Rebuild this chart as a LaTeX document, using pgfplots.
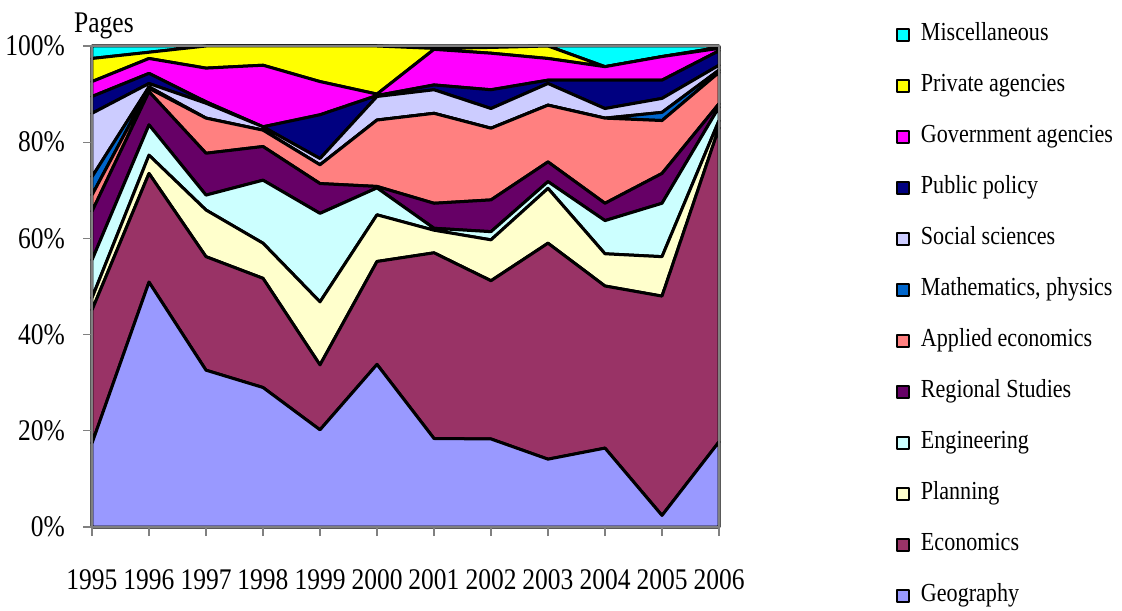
\documentclass[border=0pt]{standalone}
\usepackage{fontspec}
\setmainfont[FakeStretch=0.85]{Liberation Serif}
\usepackage{pgfplots}
\usepackage{pgfplotstable}
\pgfplotsset{compat=1.18}

\definecolor{cgeo}{HTML}{9999FF}
\definecolor{ceco}{HTML}{993366}
\definecolor{cplan}{HTML}{FFFFCC}
\definecolor{ceng}{HTML}{CCFFFF}
\definecolor{creg}{HTML}{660066}
\definecolor{capp}{HTML}{FF8080}
\definecolor{cmath}{HTML}{0066CC}
\definecolor{csoc}{HTML}{CCCCFF}
\definecolor{cpub}{HTML}{000080}
\definecolor{cgov}{HTML}{FF00FF}
\definecolor{cpriv}{HTML}{FFFF00}
\definecolor{cmisc}{HTML}{00FFFF}

% share of pages per field, in %
\pgfplotstableread{
year geo  eco  plan eng  reg  app  math soc  pub gov  priv misc
1995 17.4 27.7 2.5  7.9  10.1 3.4  3.8  13.2 3.5 3.1  4.8  2.6
1996 50.9 22.6 3.8  6.3  6.9  0.7  0.3  0.7  2.1 3.1  1.3  1.3
1997 32.6 23.6 9.7  3.1  8.7  7.3  0.0  3.1  0.3 7.0  4.6  0.0
1998 29.0 22.7 7.3  13.1 7.0  3.4  0.0  0.7  0.0 12.8 4.0  0.0
1999 20.2 13.5 13.1 18.4 6.2  3.9  0.0  1.3  9.1 6.9  7.4  0.0
2000 33.8 21.4 9.7  5.6  0.3  13.8 0.0  4.9  0.2 0.3  10.0 0.0
2001 18.4 38.6 4.7  0.4  5.2  18.7 0.0  4.9  1.0 7.4  0.2  0.5
2002 18.3 32.9 8.5  1.7  6.6  14.9 0.0  4.1  3.9 7.6  1.2  0.3
2003 14.1 44.9 11.4 1.4  4.1  11.8 0.0  4.5  0.7 4.5  2.6  0.0
2004 16.4 33.7 6.7  6.9  3.6  17.7 0.0  2.0  5.9 2.8  0.0  4.3
2005 2.4  45.6 8.2  11.1 6.2  11.0 1.7  2.9  3.8 4.9  0.0  2.2
2006 17.7 65.3 1.5  2.8  0.7  6.5  0.5  1.0  3.0 0.5  0.2  0.3
}\shares

\begin{document}
\begin{tikzpicture}
\useasboundingbox (-92bp,-84bp) rectangle (1030bp,527bp);
\begin{axis}[
  at={(0,0)}, anchor=south west,
  scale only axis, width=627bp, height=481bp,
  xmin=1995, xmax=2006, ymin=0, ymax=100,
  clip=false,
  stack plots=y, area style,
  xtick={1995,1996,...,2006},
  ytick={0,20,40,60,80,100},
  yticklabels={0\%,20\%,40\%,60\%,80\%,100\%},
  xtick pos=bottom, ytick pos=left,
  tick align=outside, major tick length=9bp,
  tick style={gray, line width=1.2bp},
  axis line style={gray, line width=1.5bp},
  /pgf/number format/1000 sep={},
  /pgf/number format/assume math mode=true,
  tick label style={font=\fontsize{30bp}{36bp}\selectfont, inner sep=0pt},
  xticklabel style={anchor=north, yshift=-33bp},
  yticklabel style={anchor=east, xshift=-18bp},
  every axis plot/.append style={draw=black, line width=3bp, line join=round},
  reverse legend,
  legend cell align=left,
  legend style={at={(1.2822,1.0489)}, anchor=north west, draw=none, fill=none,
    inner sep=0pt, column sep=11bp, row sep=27bp,
    font=\fontsize{26bp}{30bp}\selectfont,
    nodes={inner sep=0pt, text height=18bp, text depth=6bp}},
  legend image code/.code={\draw[#1, line width=1.8bp] (0bp,-6bp) rectangle (12bp,6bp);},
]
\addplot[fill=cgeo] table[x=year, y=geo] {\shares} \closedcycle;
\addlegendentry{Geography}
\addplot[fill=ceco] table[x=year, y=eco] {\shares} \closedcycle;
\addlegendentry{Economics}
\addplot[fill=cplan] table[x=year, y=plan] {\shares} \closedcycle;
\addlegendentry{Planning}
\addplot[fill=ceng] table[x=year, y=eng] {\shares} \closedcycle;
\addlegendentry{Engineering}
\addplot[fill=creg] table[x=year, y=reg] {\shares} \closedcycle;
\addlegendentry{Regional Studies}
\addplot[fill=capp] table[x=year, y=app] {\shares} \closedcycle;
\addlegendentry{Applied economics}
\addplot[fill=cmath] table[x=year, y=math] {\shares} \closedcycle;
\addlegendentry{Mathematics, physics}
\addplot[fill=csoc] table[x=year, y=soc] {\shares} \closedcycle;
\addlegendentry{Social sciences}
\addplot[fill=cpub] table[x=year, y=pub] {\shares} \closedcycle;
\addlegendentry{Public policy}
\addplot[fill=cgov] table[x=year, y=gov] {\shares} \closedcycle;
\addlegendentry{Government agencies}
\addplot[fill=cpriv] table[x=year, y=priv] {\shares} \closedcycle;
\addlegendentry{Private agencies}
\addplot[fill=cmisc] table[x=year, y=misc] {\shares} \closedcycle;
\addlegendentry{Miscellaneous}
\draw[gray, line width=2bp] (rel axis cs:0,1) -- (rel axis cs:1,1);
\end{axis}
\node[anchor=base west, inner sep=0pt, font=\fontsize{30bp}{36bp}\selectfont]
  at (-18bp,494bp) {Pages};
\end{tikzpicture}
\end{document}
